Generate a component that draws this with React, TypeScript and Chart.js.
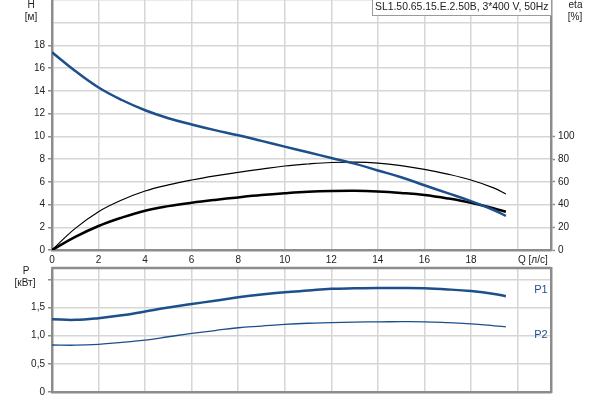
import React, { useEffect, useRef } from 'react';
import { Chart, registerables } from 'chart.js';

Chart.register(...registerables);

// ---- data ----
const flowQ = [0, 1, 2, 3, 4, 5, 6, 7, 8, 9, 10, 11, 12, 13, 14, 15, 16, 17, 18, 19, 19.5];
const headH = [17.4, 15.75, 14.3, 13.2, 12.3, 11.6, 11.05, 10.55, 10.1, 9.6, 9.1, 8.6, 8.1, 7.6, 7.0, 6.4, 5.7, 5.0, 4.3, 3.5, 3.0];
const etaHigh = [0, 19, 33.7, 44, 51.9, 57.3, 61.6, 65.2, 68.3, 71.2, 73.9, 75.7, 77.0, 77.3, 76.5, 74.3, 71, 66.8, 61.6, 54.5, 49.3];
const etaLow = [0, 11.5, 21.1, 28.5, 34.6, 38.6, 41.6, 44.1, 46.3, 48.3, 49.9, 51.2, 51.9, 52.1, 51.5, 50.2, 48.4, 45.4, 41.6, 36.5, 33.7];
const powerP1 = [1.29, 1.28, 1.31, 1.36, 1.43, 1.5, 1.56, 1.62, 1.68, 1.73, 1.77, 1.8, 1.83, 1.84, 1.846, 1.845, 1.84, 1.82, 1.79, 1.74, 1.7];
const powerP2 = [0.834, 0.83, 0.846, 0.88, 0.92, 0.98, 1.04, 1.09, 1.14, 1.17, 1.2, 1.22, 1.23, 1.24, 1.245, 1.247, 1.245, 1.23, 1.21, 1.175, 1.155];

const xGrid = [0, 2, 4, 6, 8, 10, 12, 14, 16, 18, 20];
const xLabelMax = 18;
const hGrid = [0, 2, 4, 6, 8, 10, 12, 14, 16, 18, 20, 22];
const hLabelMax = 18;
const etaGrid = [0, 20, 40, 60, 80, 100, 120, 140, 160, 180, 200, 220];
const etaLabelMax = 100;
const pGrid = [0, 0.5, 1, 1.5, 2];
const pLabelMax = 1.5;

const X_MAX = 21.44;
const H_MAX = 22;
const ETA_MAX = 220;
const P_MAX = 2.2;

const titleText = 'SL1.50.65.15.E.2.50B, 3*400 V, 50Hz';
const xTitle = 'Q [л/с]';

const FONT = '"Liberation Sans", Arial, sans-serif';
const tickFont = { family: FONT, size: 10 };
const TEXT = '#222222';
const GRID = '#d6d6d6';
const AXIS = '#8c8c8c';
const BLUE = '#1c4f8c';

function pts(ys: number[]) {
  return flowQ.map((q, i) => ({ x: q, y: ys[i] }));
}

function fmtP(v: number) {
  if (v === 0) return '0';
  return v.toFixed(1).replace('.', ',');
}

const lineBase = { pointRadius: 0, fill: false, tension: 0.4 };

export default function App() {
  const topRef = useRef<HTMLCanvasElement>(null);
  const botRef = useRef<HTMLCanvasElement>(null);

  useEffect(() => {
    const topText = {
      id: 'topText',
      afterDraw(chart: any) {
        const ctx = chart.ctx;
        ctx.save();
        ctx.font = `10px ${FONT}`;
        ctx.fillStyle = TEXT;
        ctx.textAlign = 'center';
        ctx.textBaseline = 'middle';
        ctx.fillText('H', 31, 5);
        ctx.fillText('[м]', 31, 17);
        ctx.fillText('eta', 575.5, 5);
        ctx.fillText('[%]', 575, 17);
        ctx.textAlign = 'left';
        ctx.fillText(xTitle, 518, 260);
        // title box
        ctx.fillStyle = '#ffffff';
        ctx.fillRect(372.5, -1, 179, 16.5);
        ctx.strokeStyle = '#9a9a9a';
        ctx.lineWidth = 1;
        ctx.strokeRect(372.5, -1, 179, 16.5);
        ctx.fillStyle = TEXT;
        ctx.font = `10.4px ${FONT}`;
        ctx.textAlign = 'left';
        ctx.fillText(titleText, 375, 7.5);
        ctx.restore();
      },
    };

    const botText = {
      id: 'botText',
      afterDraw(chart: any) {
        const ctx = chart.ctx;
        const a = chart.chartArea;
        ctx.save();
        ctx.strokeStyle = AXIS;
        ctx.lineWidth = 2.5;
        ctx.beginPath();
        ctx.moveTo(a.left, a.top);
        ctx.lineTo(a.right, a.top);
        ctx.stroke();
        ctx.font = `10px ${FONT}`;
        ctx.fillStyle = TEXT;
        ctx.textAlign = 'center';
        ctx.textBaseline = 'middle';
        ctx.fillText('P', 26, 9);
        ctx.fillText('[кВт]', 25, 21);
        ctx.fillStyle = BLUE;
        ctx.font = `11px ${FONT}`;
        ctx.fillText('P1', 541, 28);
        ctx.fillText('P2', 541, 73);
        ctx.restore();
      },
    };

    const gridOpts = { color: GRID, lineWidth: 1.5 };
    const borderOpts = { display: true, color: AXIS, width: 2.5 };

    const topChart = new Chart(topRef.current as HTMLCanvasElement, {
      type: 'line',
      data: {
        datasets: [
          { ...lineBase, label: 'H', data: pts(headH), yAxisID: 'yH', borderColor: BLUE, borderWidth: 2.5 },
          { ...lineBase, label: 'eta1', data: pts(etaHigh), yAxisID: 'yEta', borderColor: '#000000', borderWidth: 1.2 },
          { ...lineBase, label: 'eta2', data: pts(etaLow), yAxisID: 'yEta', borderColor: '#000000', borderWidth: 2.5 },
        ],
      },
      options: {
        responsive: false,
        animation: false,
        events: [],
        layout: { padding: 0 },
        plugins: { legend: { display: false }, tooltip: { enabled: false }, title: { display: false } },
        scales: {
          x: {
            type: 'linear',
            position: 'bottom',
            min: 0,
            max: X_MAX,
            afterBuildTicks: (s: any) => {
              s.ticks = xGrid.map((v) => ({ value: v }));
            },
            ticks: {
              callback: (v: any) => (v <= xLabelMax ? String(v) : ''),
              font: tickFont,
              color: TEXT,
              padding: 4,
              maxRotation: 0,
              autoSkip: false,
            },
            grid: { ...gridOpts, drawTicks: false },
            border: borderOpts,
            afterFit: (s: any) => {
              s.height = 20;
              s.paddingLeft = 0;
              s.paddingRight = 0;
            },
          },
          yH: {
            type: 'linear',
            position: 'left',
            min: 0,
            max: H_MAX,
            afterBuildTicks: (s: any) => {
              s.ticks = hGrid.map((v) => ({ value: v }));
            },
            ticks: {
              callback: (v: any) => (v <= hLabelMax ? String(v) : ''),
              font: tickFont,
              color: TEXT,
              padding: 3,
              autoSkip: false,
            },
            grid: {
              ...gridOpts,
              drawTicks: true,
              tickLength: 4,
              tickWidth: 1.5,
              tickColor: (c: any) => (c.tick && c.tick.value <= hLabelMax ? AXIS : 'rgba(0,0,0,0)'),
            },
            border: borderOpts,
            afterFit: (s: any) => {
              s.width = 52;
              s.paddingTop = 0;
              s.paddingBottom = 0;
            },
          },
          yEta: {
            type: 'linear',
            position: 'right',
            min: 0,
            max: ETA_MAX,
            afterBuildTicks: (s: any) => {
              s.ticks = etaGrid.map((v) => ({ value: v }));
            },
            ticks: {
              callback: (v: any) => (v <= etaLabelMax ? String(v) : ''),
              font: tickFont,
              color: TEXT,
              padding: 3,
              autoSkip: false,
            },
            grid: {
              drawOnChartArea: false,
              drawTicks: true,
              tickLength: 4,
              tickWidth: 1.5,
              tickColor: (c: any) => (c.tick && c.tick.value <= etaLabelMax ? AXIS : 'rgba(0,0,0,0)'),
            },
            border: borderOpts,
            afterFit: (s: any) => {
              s.width = 49;
              s.paddingTop = 0;
              s.paddingBottom = 0;
            },
          },
        },
      } as any,
      plugins: [topText],
    });

    const botChart = new Chart(botRef.current as HTMLCanvasElement, {
      type: 'line',
      data: {
        datasets: [
          { ...lineBase, label: 'P1', data: pts(powerP1), yAxisID: 'yP', borderColor: BLUE, borderWidth: 2.5 },
          { ...lineBase, label: 'P2', data: pts(powerP2), yAxisID: 'yP', borderColor: BLUE, borderWidth: 1.3 },
        ],
      },
      options: {
        responsive: false,
        animation: false,
        events: [],
        layout: { padding: { top: 6, left: 0, right: 0, bottom: 0 } },
        plugins: { legend: { display: false }, tooltip: { enabled: false }, title: { display: false } },
        scales: {
          x: {
            type: 'linear',
            position: 'bottom',
            min: 0,
            max: X_MAX,
            afterBuildTicks: (s: any) => {
              s.ticks = xGrid.map((v) => ({ value: v }));
            },
            ticks: { display: false },
            grid: { ...gridOpts, drawTicks: false },
            border: borderOpts,
            afterFit: (s: any) => {
              s.height = 8;
              s.paddingLeft = 0;
              s.paddingRight = 0;
            },
          },
          yP: {
            type: 'linear',
            position: 'left',
            min: 0,
            max: P_MAX,
            afterBuildTicks: (s: any) => {
              s.ticks = pGrid.map((v) => ({ value: v }));
            },
            ticks: {
              callback: (v: any) => (v <= pLabelMax ? fmtP(v) : ''),
              font: tickFont,
              color: TEXT,
              padding: 3,
              autoSkip: false,
            },
            grid: { ...gridOpts, drawTicks: true, tickLength: 4, tickWidth: 1.5, tickColor: AXIS },
            border: borderOpts,
            afterFit: (s: any) => {
              s.width = 52;
              s.paddingTop = 0;
              s.paddingBottom = 0;
            },
          },
          yR: {
            type: 'linear',
            position: 'right',
            min: 0,
            max: P_MAX,
            ticks: { display: false },
            grid: { drawOnChartArea: false, drawTicks: false },
            border: borderOpts,
            afterFit: (s: any) => {
              s.width = 49;
              s.paddingTop = 0;
              s.paddingBottom = 0;
            },
          },
        },
      } as any,
      plugins: [botText],
    });

    return () => {
      topChart.destroy();
      botChart.destroy();
    };
  }, []);

  return (
    <div style={{ position: 'fixed', left: 0, top: 0, width: 600, height: 400, background: '#ffffff' }}>
      <canvas ref={topRef} width={600} height={270} style={{ position: 'absolute', left: 0, top: 0 }} />
      <canvas ref={botRef} width={600} height={138} style={{ position: 'absolute', left: 0, top: 262 }} />
    </div>
  );
}
